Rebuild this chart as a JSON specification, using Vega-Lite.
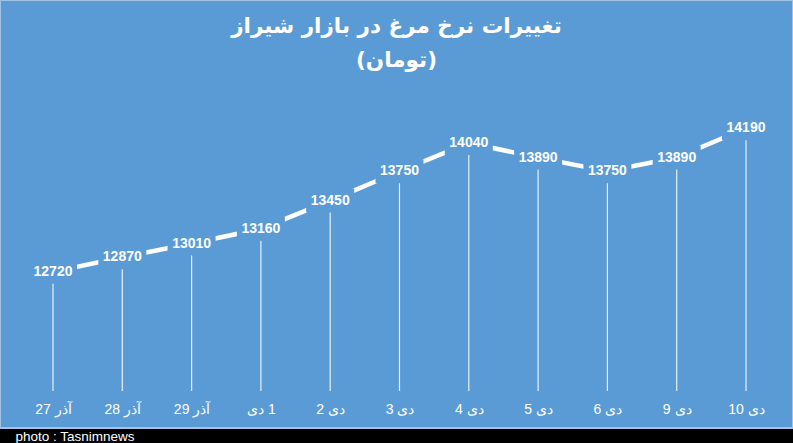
{
  "$schema": "https://vega.github.io/schema/vega-lite/v6.json",
  "width": 793,
  "height": 428,
  "autosize": {"type": "none"},
  "padding": {"left": 0, "right": 0, "top": 0, "bottom": 15},
  "background": "#000000",
  "config": {
    "view": {"fill": "#5B9BD5", "stroke": "#a3c2e4", "strokeWidth": 2}
  },
  "title": {
    "text": ["تغییرات نرخ مرغ در بازار شیراز", "(تومان)"],
    "anchor": "middle",
    "frame": "group",
    "offset": -71,
    "font": "DejaVu Sans",
    "fontSize": 21.5,
    "fontWeight": "bold",
    "color": "white",
    "lineHeight": 34
  },
  "data": {
    "values": [
      {"day": "27 آذر", "price": 12720},
      {"day": "28 آذر", "price": 12870},
      {"day": "29 آذر", "price": 13010},
      {"day": "دی\u200e 1", "price": 13160},
      {"day": "2 دی", "price": 13450},
      {"day": "3 دی", "price": 13750},
      {"day": "4 دی", "price": 14040},
      {"day": "5 دی", "price": 13890},
      {"day": "6 دی", "price": 13750},
      {"day": "9 دی", "price": 13890},
      {"day": "10 دی", "price": 14190}
    ]
  },
  "encoding": {
    "x": {
      "field": "day",
      "type": "ordinal",
      "sort": null,
      "scale": {"type": "point", "range": [53, 746], "padding": 0},
      "axis": {
        "title": "photo : Tasnimnews",
        "orient": "bottom",
        "offset": -28,
        "domain": false,
        "ticks": false,
        "grid": false,
        "labelAngle": 0,
        "labelColor": "white",
        "labelFont": "Liberation Sans",
        "labelFontSize": 14,
        "labelPadding": 2,
        "titleColor": "white",
        "titleFont": "Liberation Sans",
        "titleFontSize": 13.5,
        "titleFontWeight": "normal",
        "titleAnchor": "start",
        "titleAlign": "left",
        "titleBaseline": "top",
        "titleX": 15,
        "titleY": 29
      }
    },
    "y": {
      "field": "price",
      "type": "quantitative",
      "scale": {"domain": [11500, 14500], "range": [391, 98], "nice": false, "zero": false},
      "axis": null
    }
  },
  "layer": [
    {
      "mark": {"type": "rule", "color": "white", "strokeWidth": 1.2, "opacity": 0.85},
      "encoding": {"y2": {"datum": 11500}}
    },
    {
      "mark": {"type": "line", "color": "white", "strokeWidth": 4.5}
    },
    {
      "mark": {
        "type": "point",
        "shape": "M-1,-0.5L1,-0.5L1,0.5L-1,0.5Z",
        "size": 2304,
        "filled": true,
        "fill": "#5B9BD5",
        "opacity": 1,
        "strokeWidth": 0
      }
    },
    {
      "mark": {
        "type": "text",
        "font": "Liberation Sans",
        "fontWeight": "bold",
        "fontSize": 14,
        "color": "white",
        "baseline": "middle"
      },
      "encoding": {"text": {"field": "price", "type": "quantitative", "format": "d"}}
    }
  ]
}
